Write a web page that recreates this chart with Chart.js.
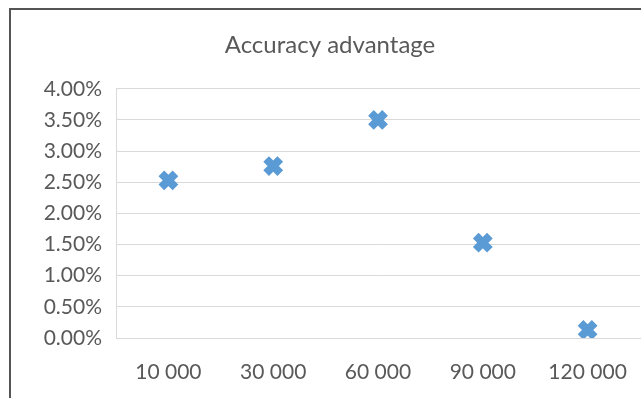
<!DOCTYPE html>
<html>
<head>
<meta charset="utf-8">
<script src="https://cdn.jsdelivr.net/npm/chart.js@4/dist/chart.umd.min.js"></script>
<style>
  html, body { margin: 0; padding: 0; background: #fff; overflow: hidden; }
  #frame {
    position: absolute; left: 9px; top: 8px;
    width: 680px; height: 420px;
    border-left: 2px solid #555; border-top: 2px solid #555;
  }
  #chart { position: absolute; left: 0; top: 0; }
</style>
</head>
<body>
<div id="frame"><canvas id="chart" width="647" height="400"></canvas></div>
<script>
// sample sizes on the x axis
var sizes = ['10 000', '30 000', '60 000', '90 000', '120 000'];
// accuracy advantage, in percent
var advantage = [2.53, 2.76, 3.50, 1.53, 0.13];

var yTicks = { min: 0, max: 4, step: 0.5 };

var textColor = '#595959';
var gridColor = '#d9d9d9';
var font = 'Lato, "Open Sans", sans-serif';

var chart = new Chart(document.getElementById('chart'), {
    type: 'line',
    data: {
        labels: sizes,
        datasets: [{
            label: 'Accuracy advantage',
            data: advantage,
            showLine: false,
            pointStyle: 'crossRot',
            pointRadius: 10,
            pointHoverRadius: 10,
            borderWidth: 8,
            pointBorderWidth: 8,
            borderColor: '#5b9bd5',
            backgroundColor: '#5b9bd5'
        }]
    },
    options: {
        responsive: false,
        animation: false,
        events: [],
        // plot area runs right up to the window edge, like the original
        layout: { padding: { left: -9, right: 0, top: 0, bottom: 0 } },
        plugins: {
            legend: { display: false },
            tooltip: { enabled: false },
            title: {
                display: true,
                text: 'Accuracy advantage',
                color: textColor,
                font: { family: font, size: 24, weight: 'normal' },
                padding: { top: 21, bottom: 29 }
            }
        },
        scales: {
            x: {
                offset: true,
                grid: { display: false, drawTicks: false },
                border: { display: true, color: gridColor },
                ticks: {
                    color: textColor,
                    font: { family: font, size: 21 },
                    padding: 22,
                    maxRotation: 0
                },
                afterFit: function(scale) {
                    scale.height = 72;
                    scale.paddingLeft = 0;
                    scale.paddingRight = 0;
                }
            },
            y: {
                min: yTicks.min,
                max: yTicks.max,
                grid: { color: gridColor, lineWidth: 1, drawTicks: false },
                border: { display: true, color: gridColor },
                ticks: {
                    stepSize: yTicks.step,
                    color: textColor,
                    font: { family: font, size: 21 },
                    padding: 14,
                    callback: function(v) { return v.toFixed(2) + '%'; }
                },
                afterFit: function(scale) { scale.width = 114; }
            }
        }
    }
});
</script>
</body>
</html>
